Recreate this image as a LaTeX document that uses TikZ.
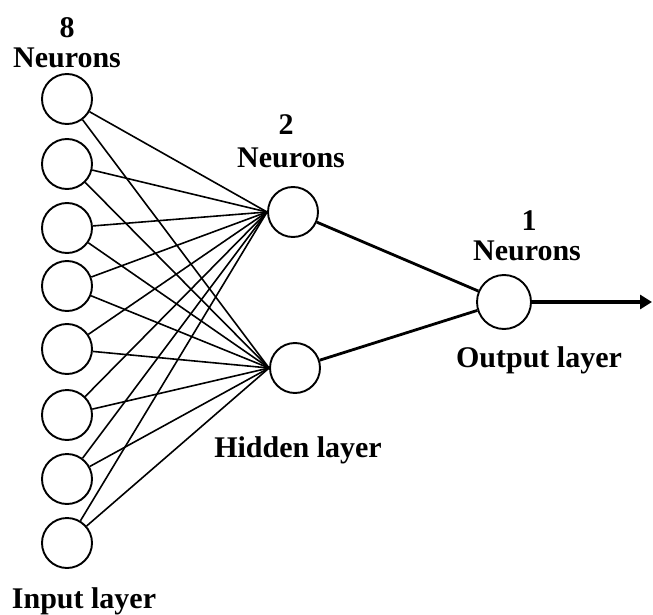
\documentclass[tikz,border=0pt]{standalone}
\usepackage{fontspec}
\setmainfont{Liberation Serif}
\usetikzlibrary{arrows.meta}
\begin{document}
\begin{tikzpicture}[x=1pt,y=-1pt,
  neuron/.style={circle,draw,line width=1.9pt,minimum size=50pt,inner sep=0pt},
  lbl/.style={font=\bfseries\fontsize{30}{30}\selectfont,inner sep=0pt,anchor=base},
  synapse/.style={line width=1.6pt},
  strongsyn/.style={line width=2.8pt}]
\useasboundingbox (0,0) rectangle (653,615);
% input layer
\foreach \i/\y in {1/99,2/164,3/228,4/286,5/349,6/415,7/479,8/543}
  \node[neuron] (in\i) at (67,\y) {};
% hidden layer
\node[neuron] (h1) at (293,212) {};
\node[neuron] (h2) at (295,368) {};
% output
\node[neuron,minimum size=54pt] (out) at (504,302) {};
\coordinate (end) at (652,302);
% connections
\foreach \i in {1,...,8}{
  \draw[synapse] (in\i) -- (h1.west);
  \draw[synapse] (in\i) -- (h2.west);
}
\draw[strongsyn] (h1) -- (out);
\draw[strongsyn] (h2) -- (out);
\draw[line width=4pt,-{Triangle[length=12pt,width=14pt]}] (out) -- (end);
% labels
\node[lbl] (l8) at (67,38) {8};
\node[lbl] (n8) at (67,68) {Neurons};
\node[lbl] (l2) at (286,135) {2};
\node[lbl] (n2) at (291,167) {Neurons};
\node[lbl] (l1) at (529,230) {1};
\node[lbl] (n1) at (527,260) {Neurons};
\node[lbl] (hl) at (298,457) {Hidden layer};
\node[lbl] (ol) at (539,367) {Output layer};
\node[lbl] (il) at (84,608) {Input layer};
\end{tikzpicture}
\end{document}
